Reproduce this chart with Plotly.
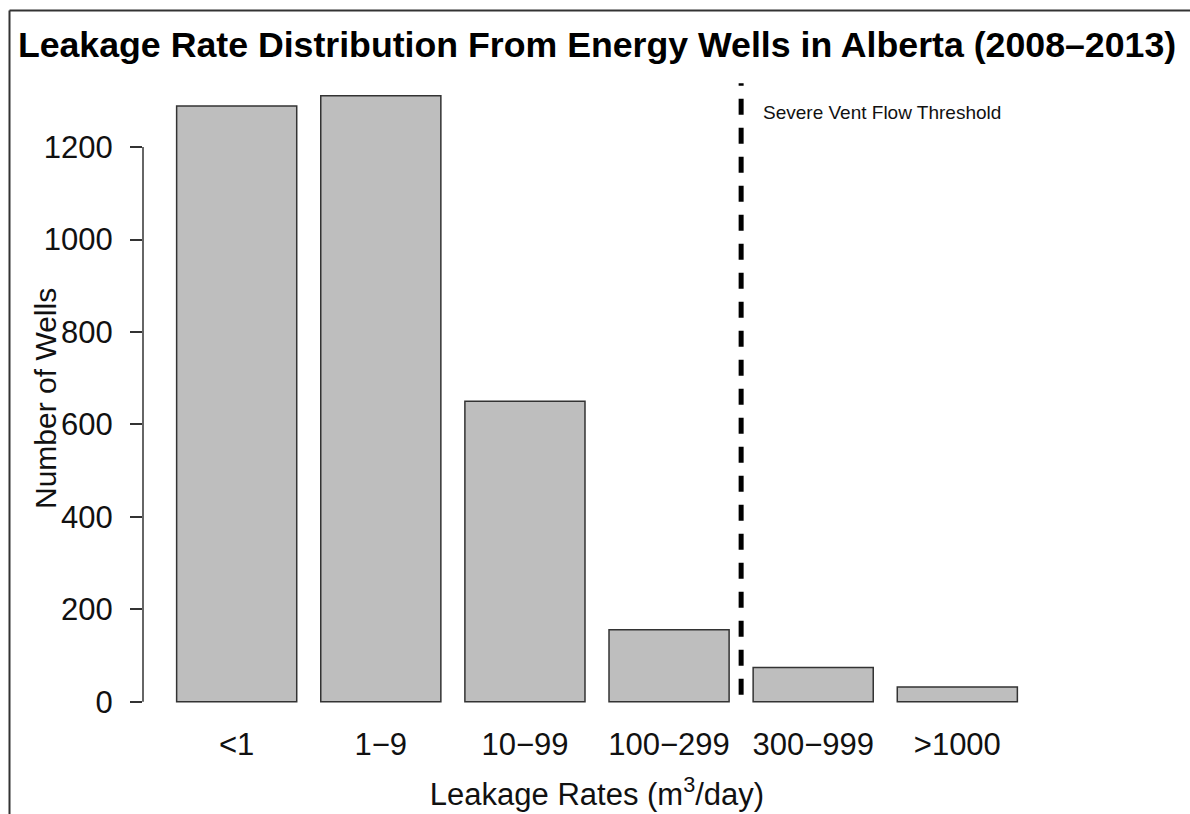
import plotly.graph_objects as go

categories = ["<1", "1\u22129", "10\u221299", "100\u2212299", "300\u2212999", ">1000"]
wells = [1289, 1311, 650, 156, 74, 32]
y_ticks = [0, 200, 400, 600, 800, 1000, 1200]
threshold_label = "Severe Vent Flow Threshold"

W, H = 1190, 814
L, R, T, B = 143, 139, 72, 88
pw, ph = W - L - R, H - T - B

def px_x(p):
    return (p - L) / pw

def px_y(p):
    return (H - B - p) / ph

fig = go.Figure()
fig.add_trace(go.Bar(
    x=categories, y=wells,
    marker=dict(color="#bebebe", line=dict(color="#333333", width=1.5)),
    hoverinfo="x+y",
))

font_family = "Liberation Sans, Arial, Helvetica, sans-serif"

fig.update_layout(
    width=W, height=H,
    margin=dict(l=L, r=R, t=T, b=B, autoexpand=False),
    paper_bgcolor="white", plot_bgcolor="white",
    bargap=0.1667,
    showlegend=False,
    font=dict(family=font_family, color="#111111", size=31),
    title=dict(
        text="<b>Leakage Rate Distribution From Energy Wells in Alberta (2008\u20132013)</b>",
        x=0.5, xref="paper", xanchor="center",
        y=1 - 45 / H, yref="container", yanchor="middle",
        font=dict(size=35.7, family=font_family, color="#000000"),
    ),
    xaxis=dict(
        type="category", range=[-0.65, 5.65],
        showline=False, showgrid=False, zeroline=False, ticks="",
        tickfont=dict(size=31), ticklabelstandoff=-3,
        title=dict(text="Leakage Rates (m<sup>3</sup>/day)", font=dict(size=31), standoff=22),
        fixedrange=True,
    ),
    yaxis=dict(
        range=[-52.4, 1362.4],
        tickvals=y_ticks, ticktext=[str(v) for v in y_ticks],
        showline=False, showgrid=False, zeroline=False,
        ticks="outside", ticklen=12, tickwidth=1.5, tickcolor="#333333",
        tickfont=dict(size=31), ticklabelstandoff=11,
        fixedrange=True,
    ),
)

shapes = [
    # y-axis line spanning the tick range only
    dict(type="line", xref="paper", yref="y", x0=0, x1=0, y0=y_ticks[0], y1=y_ticks[-1],
         line=dict(color="#333333", width=1.5)),
    # threshold dashed line between 100-299 and 300-999
    dict(type="line", xref="x", yref="y", x0=3.5, x1=3.5, y0=15, y1=1338,
         line=dict(color="#000000", width=5, dash="16px,13px")),
    # outer frame (top and left edges)
    dict(type="line", xref="paper", yref="paper", x0=px_x(9.5), x1=px_x(W + 5),
         y0=px_y(10.5), y1=px_y(10.5), line=dict(color="#333333", width=2)),
    dict(type="line", xref="paper", yref="paper", x0=px_x(9.5), x1=px_x(9.5),
         y0=px_y(10.5), y1=px_y(H + 5), line=dict(color="#333333", width=2)),
]
fig.update_layout(shapes=shapes)

# y-axis title (sits over the tick-label column, as in the reference)
fig.add_annotation(
    x=px_x(45), y=0.5, xref="paper", yref="paper", text="Number of Wells",
    textangle=-90, showarrow=False, xanchor="center", yanchor="middle",
    font=dict(size=30, color="#111111"),
)

fig.add_annotation(
    x=3.64, y=1274, xref="x", yref="y", text=threshold_label,
    showarrow=False, xanchor="left", yanchor="middle",
    font=dict(size=19, color="#111111"),
)

fig.write_html(
    "out.html",
    config={"displayModeBar": False},
    post_script="document.body.style.margin='0';document.body.style.padding='0';",
)
